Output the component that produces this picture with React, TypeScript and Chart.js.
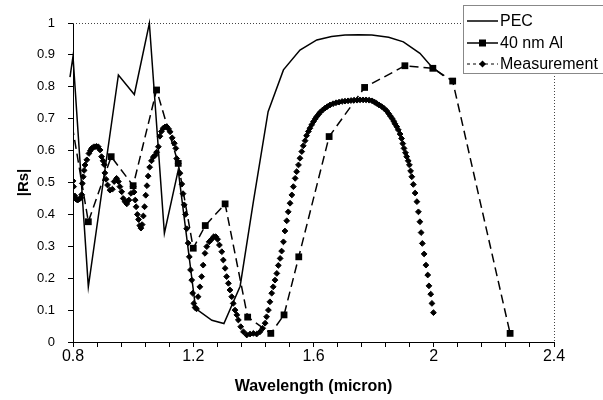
import React, { useEffect, useRef } from "react";
import { Chart, registerables } from "chart.js";

Chart.register(...registerables);

// ---------------- data ----------------
const seriesNames = ["PEC", "40 nm Al", "Measurement"];

const pecX = [0.79, 0.8, 0.851, 0.951, 1.004, 1.054, 1.104, 1.15, 1.208, 1.262, 1.302, 1.356, 1.4, 1.449, 1.5, 1.555, 1.611, 1.66, 1.705, 1.75, 1.794, 1.85, 1.899, 1.954, 1.993, 2.032];
const pecY = [0.83, 0.895, 0.173, 0.837, 0.776, 0.999, 0.341, 0.539, 0.105, 0.068, 0.058, 0.175, 0.44, 0.722, 0.853, 0.915, 0.947, 0.958, 0.962, 0.963, 0.962, 0.955, 0.941, 0.905, 0.863, 0.835];

const alX = [0.79, 0.851, 0.927, 1.0, 1.078, 1.15, 1.2, 1.24, 1.306, 1.381, 1.458, 1.502, 1.551, 1.652, 1.77, 1.904, 1.997, 2.063, 2.254];
const alY = [0.72, 0.377, 0.581, 0.49, 0.79, 0.56, 0.294, 0.365, 0.433, 0.078, 0.027, 0.085, 0.267, 0.644, 0.798, 0.866, 0.858, 0.818, 0.027];

const measX = [
  0.8, 0.802, 0.806, 0.811, 0.816, 0.821, 0.826, 0.829, 0.831, 0.834, 0.837, 0.84, 0.846, 0.853, 0.858, 0.862, 0.868, 0.873, 0.878, 0.884, 0.89, 0.895, 0.9, 0.904, 0.906, 0.91,
  0.915, 0.923, 0.931, 0.937, 0.945, 0.951, 0.956, 0.962, 0.967, 0.973, 0.979, 0.986, 0.993, 1.0, 1.003, 1.007, 1.01, 1.014, 1.018, 1.022, 1.026, 1.03, 1.034, 1.038, 1.042, 1.046, 1.05,
  1.055, 1.061, 1.067, 1.073, 1.078, 1.084, 1.089, 1.094, 1.1, 1.106, 1.112, 1.118, 1.123, 1.13, 1.137, 1.142, 1.145, 1.15, 1.156, 1.162, 1.166, 1.17, 1.174, 1.178, 1.183, 1.187,
  1.191, 1.195, 1.198, 1.202, 1.206, 1.211, 1.216, 1.222, 1.228, 1.233, 1.239, 1.245, 1.253, 1.261, 1.268, 1.275, 1.281, 1.287, 1.295, 1.3, 1.306, 1.311, 1.317, 1.322, 1.328,
  1.333, 1.339, 1.345, 1.35, 1.358, 1.367, 1.378, 1.389, 1.4, 1.411, 1.422, 1.431, 1.439, 1.444, 1.45, 1.455, 1.461, 1.466, 1.472, 1.478, 1.483, 1.489, 1.494, 1.5, 1.505, 1.511,
  1.516, 1.522, 1.528, 1.533, 1.539, 1.544, 1.55, 1.555, 1.561, 1.566, 1.572, 1.577, 1.583, 1.588, 1.594, 1.6, 1.606, 1.611, 1.617, 1.622, 1.63, 1.638, 1.646, 1.655, 1.665, 1.675,
  1.685, 1.695, 1.705, 1.715, 1.725, 1.735, 1.745, 1.755, 1.765, 1.775, 1.785, 1.795, 1.803, 1.81, 1.818, 1.827, 1.835, 1.843, 1.85, 1.856, 1.862, 1.867, 1.871, 1.877, 1.882,
  1.888, 1.893, 1.897, 1.901, 1.906, 1.91, 1.915, 1.919, 1.923, 1.927, 1.932, 1.938, 1.944, 1.949, 1.954, 1.958, 1.962, 1.968, 1.974, 1.98, 1.984, 1.99, 1.994, 1.999
];
const measY = [
  0.505, 0.487, 0.458, 0.447, 0.445, 0.448, 0.452, 0.462, 0.497, 0.518, 0.538, 0.555, 0.571, 0.591, 0.6, 0.607, 0.611, 0.612, 0.613, 0.612, 0.602, 0.581, 0.568, 0.556, 0.53, 0.51,
  0.492, 0.476, 0.479, 0.503, 0.513, 0.503, 0.487, 0.471, 0.45, 0.44, 0.433, 0.445, 0.466, 0.487, 0.47, 0.445, 0.424, 0.4, 0.384, 0.365, 0.357, 0.368, 0.395, 0.424, 0.46, 0.49, 0.52,
  0.548, 0.568, 0.58, 0.585, 0.595, 0.612, 0.645, 0.66, 0.67, 0.674, 0.675, 0.668, 0.659, 0.64, 0.623, 0.607, 0.575, 0.56, 0.529, 0.495, 0.465, 0.43, 0.4, 0.355, 0.31, 0.267,
  0.226, 0.194, 0.153, 0.121, 0.108, 0.104, 0.142, 0.173, 0.205, 0.241, 0.278, 0.299, 0.314, 0.322, 0.33, 0.33, 0.322, 0.304, 0.283, 0.257, 0.231, 0.205, 0.184, 0.163, 0.142,
  0.121, 0.1, 0.085, 0.069, 0.048, 0.032, 0.022, 0.025, 0.027, 0.025, 0.032, 0.043, 0.059, 0.079, 0.1, 0.126, 0.153, 0.173, 0.194, 0.215, 0.24, 0.262, 0.285, 0.314, 0.348, 0.38,
  0.408, 0.435, 0.461, 0.487, 0.513, 0.534, 0.555, 0.576, 0.597, 0.615, 0.631, 0.647, 0.66, 0.67, 0.681, 0.691, 0.7, 0.707, 0.714, 0.72, 0.727, 0.733, 0.738, 0.743, 0.747, 0.75,
  0.752, 0.754, 0.755, 0.756, 0.757, 0.758, 0.758, 0.759, 0.759, 0.759, 0.758, 0.756, 0.752, 0.748, 0.743, 0.738, 0.732, 0.725, 0.716, 0.708, 0.7, 0.692, 0.684, 0.675, 0.665,
  0.652, 0.638, 0.622, 0.607, 0.593, 0.581, 0.568, 0.555, 0.536, 0.518, 0.494, 0.467, 0.44, 0.408, 0.377, 0.343, 0.309, 0.276, 0.241, 0.21, 0.176, 0.15, 0.121, 0.092
];

const xMin = 0.8;
const xMax = 2.4;
const xMinorStep = 0.08;
const xMajorTicks = [0.8, 1.2, 1.6, 2.0, 2.4];
const xTickLabels = ["0.8", "1.2", "1.6", "2", "2.4"];
const yTicks = [0, 0.1, 0.2, 0.3, 0.4, 0.5, 0.6, 0.7, 0.8, 0.9, 1];
const yTickLabels = ["0", "0.1", "0.2", "0.3", "0.4", "0.5", "0.6", "0.7", "0.8", "0.9", "1"];
const xTitle = "Wavelength (micron)";
const yTitle = "|Rs|";

const FONT = '"Liberation Sans", Arial, sans-serif';

const toPoints = (xs: number[], ys: number[]) => xs.map((x, i) => ({ x, y: ys[i] }));

const framePlugin = {
  id: "frameAndLegend",
  beforeDatasetsDraw(chart: any) {
    const { ctx, chartArea } = chart;
    ctx.save();
    ctx.strokeStyle = "#444";
    ctx.lineWidth = 1;
    ctx.setLineDash([1, 2]);
    ctx.beginPath();
    ctx.moveTo(chartArea.left, Math.round(chartArea.top) + 0.5);
    ctx.lineTo(Math.round(chartArea.right) + 0.5, Math.round(chartArea.top) + 0.5);
    ctx.lineTo(Math.round(chartArea.right) + 0.5, chartArea.bottom);
    ctx.stroke();
    ctx.restore();
  },
  afterDraw(chart: any) {
    const { ctx } = chart;
    ctx.save();
    const bx = 463.5, by = 5.5, bw = 145, bh = 68;
    ctx.fillStyle = "#fff";
    ctx.fillRect(bx, by, bw, bh);
    ctx.strokeStyle = "#888";
    ctx.lineWidth = 1;
    ctx.strokeRect(bx, by, bw, bh);
    const rows = [21, 43, 64];
    const x0 = 467, x1 = 498, xm = 482.5;
    ctx.strokeStyle = "#000";
    ctx.fillStyle = "#000";
    // PEC
    ctx.lineWidth = 1.5;
    ctx.beginPath(); ctx.moveTo(x0, rows[0]); ctx.lineTo(x1, rows[0]); ctx.stroke();
    // 40 nm Al
    ctx.beginPath(); ctx.moveTo(x0, rows[1]); ctx.lineTo(x1, rows[1]); ctx.stroke();
    ctx.fillRect(xm - 3.5, rows[1] - 3.5, 7, 7);
    // Measurement
    ctx.lineWidth = 1;
    ctx.setLineDash([3, 3]);
    ctx.beginPath(); ctx.moveTo(x0, rows[2]); ctx.lineTo(x1, rows[2]); ctx.stroke();
    ctx.setLineDash([]);
    ctx.beginPath();
    ctx.moveTo(xm, rows[2] - 3.5); ctx.lineTo(xm + 3.5, rows[2]); ctx.lineTo(xm, rows[2] + 3.5); ctx.lineTo(xm - 3.5, rows[2]);
    ctx.closePath(); ctx.fill();
    ctx.font = `16px ${FONT}`;
    ctx.textBaseline = "middle";
    ctx.textAlign = "left";
    seriesNames.forEach((n, i) => ctx.fillText(n, 500, rows[i] + 1));
    ctx.restore();
  },
};

export default function App() {
  const ref = useRef<HTMLCanvasElement | null>(null);
  useEffect(() => {
    if (!ref.current) return;
    const chart = new Chart(ref.current, {
      type: "scatter",
      data: {
        datasets: [
          {
            label: seriesNames[0],
            data: toPoints(pecX, pecY),
            showLine: true,
            borderColor: "#000",
            borderWidth: 1.5,
            pointRadius: 0,
            pointHoverRadius: 0,
            clip: false as any,
          },
          {
            label: seriesNames[1],
            data: toPoints(alX, alY),
            showLine: true,
            borderColor: "#000",
            backgroundColor: "#000",
            borderWidth: 1.5,
            borderDash: [9, 5],
            pointStyle: "rect",
            pointRadius: (c: any) => (c.dataIndex === 0 ? 0 : 4.8),
            pointBorderWidth: 0,
            pointBackgroundColor: "#000",
          },
          {
            label: seriesNames[2],
            data: toPoints(measX, measY),
            showLine: false,
            borderColor: "#000",
            backgroundColor: "#000",
            pointStyle: "rectRot",
            pointRadius: 2.9,
            pointBorderWidth: 1,
            pointBackgroundColor: "#000",
            pointBorderColor: "#000",
          },
        ],
      },
      options: {
        responsive: false,
        animation: false,
        layout: { padding: { left: 0, top: 23, right: 49, bottom: 0 } },
        plugins: { legend: { display: false }, tooltip: { enabled: false } },
        scales: {
          x: {
            type: "linear",
            min: xMin,
            max: xMax,
            afterBuildTicks: (scale: any) => {
              const t = [];
              for (let v = xMin; v <= xMax + 1e-9; v += xMinorStep) t.push({ value: Math.round(v * 1000) / 1000 });
              scale.ticks = t;
            },
            afterFit: (scale: any) => { scale.height = 58; },
            ticks: {
              autoSkip: false,
              maxRotation: 0,
              padding: 0,
              color: "#000",
              font: { family: FONT, size: 16 },
              callback: (value: any) => {
                const i = xMajorTicks.findIndex((m) => Math.abs(m - value) < 1e-6);
                return i >= 0 ? xTickLabels[i] : "";
              },
            },
            grid: { drawOnChartArea: false, drawTicks: true, tickLength: 5, color: "#000", lineWidth: 1 },
            border: { display: true, color: "#000", width: 1 },
            title: { display: true, text: xTitle, color: "#000", font: { family: FONT, size: 16, weight: "bold" }, padding: { top: 0, bottom: 4 } },
          },
          y: {
            type: "linear",
            min: 0,
            max: 1,
            afterBuildTicks: (scale: any) => { scale.ticks = yTicks.map((v) => ({ value: v })); },
            afterFit: (scale: any) => { scale.width = 73; },
            ticks: {
              autoSkip: false,
              padding: 13,
              color: "#000",
              font: { family: FONT, size: 13 },
              callback: (_v: any, i: number) => yTickLabels[i],
            },
            grid: { drawOnChartArea: false, drawTicks: true, tickLength: 5, color: "#000", lineWidth: 1 },
            border: { display: true, color: "#000", width: 1 },
            title: { display: true, text: yTitle, color: "#000", font: { family: FONT, size: 15, weight: "bold" }, padding: { top: 15, bottom: 0 } },
          },
        },
      },
      plugins: [framePlugin],
    });
    return () => chart.destroy();
  }, []);
  return (
    <div style={{ position: "absolute", left: 0, top: 0, width: 603, height: 400, background: "#fff" }}>
      <canvas ref={ref} width={603} height={400} style={{ display: "block" }} />
    </div>
  );
}
